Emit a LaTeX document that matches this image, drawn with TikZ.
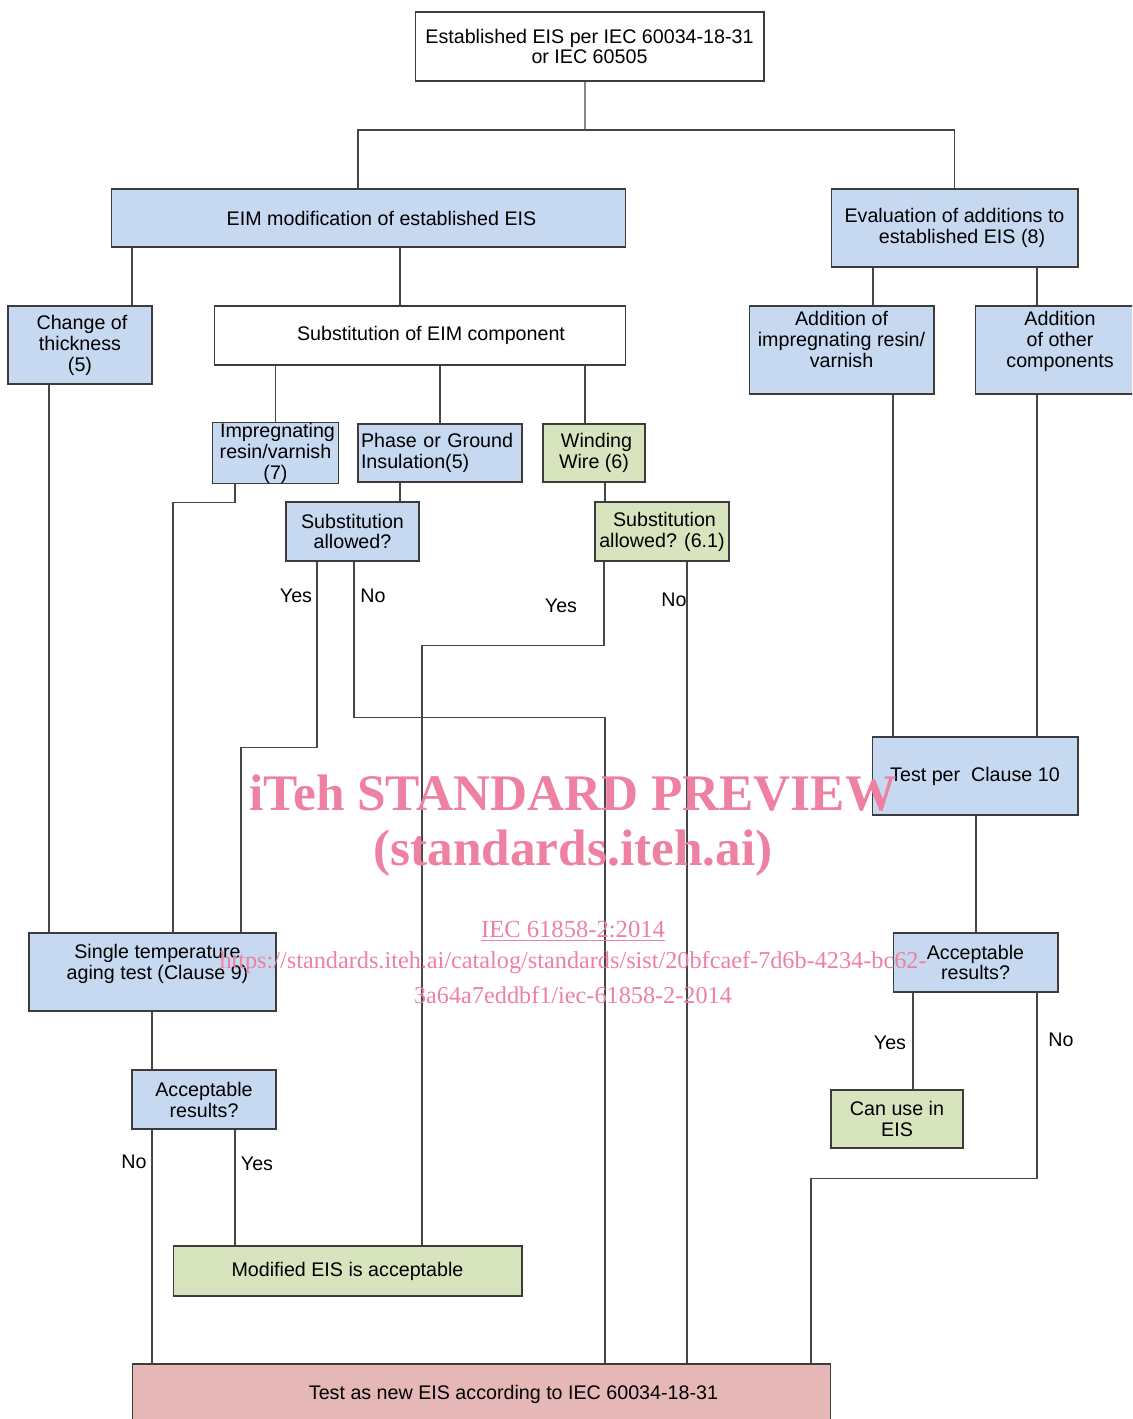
\documentclass[tikz,border=0pt]{standalone}
\usepackage{fontspec}
\setmainfont{Liberation Sans}
\newfontfamily\wmserif{Liberation Serif}
\usepackage{xcolor}
\usepackage{tikz}
\definecolor{eisblue}{RGB}{198,217,241}
\definecolor{eisgreen}{RGB}{215,228,189}
\definecolor{eispink}{RGB}{229,184,183}
\definecolor{edgegray}{RGB}{60,60,60}
\definecolor{linegray}{RGB}{70,70,70}
\definecolor{wmpink}{RGB}{238,128,162}
\tikzset{
  box/.style={draw=edgegray, line width=0.6pt, inner sep=2pt, align=center, font=\fontsize{11.2}{11.9}\selectfont},
  bluebox/.style={box, fill=eisblue},
  greenbox/.style={box, fill=eisgreen},
  pinkbox/.style={box, fill=eispink},
  whitebox/.style={box, fill=white},
  yn/.style={inner sep=0pt, font=\fontsize{11.2}{11.9}\selectfont},
  link/.style={draw=linegray, line width=0.6pt},
  wm/.style={text=wmpink, inner sep=0pt, align=center},
  every picture/.style={line join=miter}
}

\begin{document}
\begin{tikzpicture}[x=0.02cm, y=-0.02cm]
  \clip (0,0) rectangle (1132,1419);
  % boxes
  \node[whitebox, minimum width=6.98cm, minimum height=1.38cm] (top) at (589.5,46.5) {Established EIS per IEC 60034-18-31\\or IEC 60505};
  \node[bluebox, minimum width=10.3cm, minimum height=1.16cm] (eim) at (368.5,218) {\hspace*{0.52cm}EIM modification of established EIS};
  \node[bluebox, minimum width=4.94cm, minimum height=1.56cm] (eval) at (954.5,228) {Evaluation of additions to\\\hspace*{0.3cm}established EIS (8)};
  \node[bluebox, minimum width=2.88cm, minimum height=1.56cm] (thick) at (80,345) {\hspace*{0.08cm}Change of\\thickness\\(5)};
  \node[whitebox, minimum width=8.24cm, minimum height=1.18cm] (subst) at (420,335.5) {\hspace*{0.44cm}Substitution of EIM component};
  \node[bluebox, minimum width=3.7cm, minimum height=1.76cm] (addresin) at (841.5,350) {Addition of\\impregnating resin/\\varnish\\\mbox{}};
  \node[bluebox, minimum width=3.4cm, minimum height=1.76cm] (addother) at (1060,350) {Addition\\of other\\components\\\mbox{}};
  \node[bluebox, minimum width=2.46cm, minimum height=1.16cm, inner ysep=0pt] (impreg) at (275.5,453) {\hspace*{0.08cm}Impregnating\\resin/varnish\\(7)};
  \node[bluebox, minimum width=3.28cm, minimum height=1.16cm, text width=3.16cm, inner xsep=0.06cm, align=left] (phase) at (440,453) {Phase or Ground\\Insulation(5)};
  \node[greenbox, minimum width=2.04cm, minimum height=1.16cm] (winding) at (594,453) {\hspace*{0.1cm}Winding\\Wire (6)};
  \node[bluebox, minimum width=2.66cm, minimum height=1.18cm] (substA) at (352.5,531.5) {Substitution\\allowed?};
  \node[greenbox, minimum width=2.68cm, minimum height=1.18cm] (substB) at (662,531.5) {\hspace*{0.1cm}Substitution\\allowed? (6.1)};
  \node[bluebox, minimum width=4.12cm, minimum height=1.56cm] (test10) at (975,776) {Test per~~Clause 10};
  \node[bluebox, minimum width=3.3cm, minimum height=1.18cm] (accR) at (975.5,962.5) {Acceptable\\results?};
  \node[greenbox, minimum width=2.64cm, minimum height=1.16cm] (canuse) at (897,1119) {Can use in\\EIS};
  \node[bluebox, minimum width=4.94cm, minimum height=1.56cm] (single) at (152.5,972) {\hspace*{0.2cm}Single temperature\\\hspace*{0.2cm}aging test (Clause 9)\\\mbox{}};
  \node[bluebox, minimum width=2.88cm, minimum height=1.18cm] (accL) at (204,1099.5) {Acceptable\\results?};
  \node[greenbox, minimum width=6.98cm, minimum height=1.0cm] (modified) at (347.5,1271) {Modified EIS is acceptable};
  \node[pinkbox, minimum width=13.98cm, minimum height=1.2cm] (final) at (481.5,1394) {\hspace*{1.28cm}Test as new EIS according to IEC 60034-18-31};

  % connectors
  \coordinate (split) at (585,130);
  \draw[link] ([xshift=-0.09cm]top.south) -- (split);
  \draw[link] (eim.north -| 358,0) |- (split) -| (eval.north);
  \draw[link] (eim.south -| 132,0) -- (thick.north -| 132,0);
  \draw[link] (eim.south -| 400,0) -- (subst.north -| 400,0);
  \draw[link] (eval.south -| 873,0) -- (addresin.north -| 873,0);
  \draw[link] (eval.south -| 1037,0) -- (addother.north -| 1037,0);
  \draw[link] (subst.south -| impreg.north) -- (impreg.north);
  \draw[link] (subst.south -| phase.north) -- (phase.north);
  \draw[link] (subst.south -| 585,0) -- (winding.north -| 585,0);
  \draw[link] (phase.south -| 400,0) -- (substA.north -| 400,0);
  \draw[link] (winding.south -| 605,0) -- (substB.north -| 605,0);
  \draw[link] (impreg.south -| 235,0) -- ++(0,19) -| (single.north -| 173,0);
  \draw[link] (thick.south -| 49,0) -- (single.north -| 49,0);
  \draw[link] (substA.south -| 317,0) -- ++(0,186) -| (single.north -| 241,0);
  \draw[link] (substA.south -| 354,0) -- ++(0,156) -| (final.north -| 605,0);
  \draw[link] (substB.south -| 604,0) -- ++(0,84) -| (modified.north -| 422,0);
  \draw[link] (substB.south -| 687,0) -- (final.north -| 687,0);
  \draw[link] (addresin.south -| 893,0) -- (test10.north -| 893,0);
  \draw[link] (addother.south -| 1037,0) -- (test10.north -| 1037,0);
  \draw[link] (test10.south -| 976,0) -- (accR.north -| 976,0);
  \draw[link] (accR.south -| 913,0) -- (canuse.north -| 913,0);
  \draw[link] (accR.south -| 1037,0) -- ++(0,186) -| (final.north -| 811,0);
  \draw[link] (single.south -| 152,0) -- (accL.north -| 152,0);
  \draw[link] (accL.south -| 152,0) -- (final.north -| 152,0);
  \draw[link] (accL.south -| 235,0) -- (modified.north -| 235,0);

  % yes / no
  \node[yn] (yA) at (296,596) {Yes};
  \node[yn] (nA) at (373,596) {No};
  \node[yn] (yB) at (561,606) {Yes};
  \node[yn] (nB) at (674,600) {No};
  \node[yn] (yR) at (890,1043) {Yes};
  \node[yn] (nR) at (1061,1040) {No};
  \node[yn] (nL) at (134,1162) {No};
  \node[yn] (yL) at (257,1164) {Yes};

  % watermark
  \node[wm, font=\wmserif\bfseries\fontsize{29.2}{30}\selectfont] (wm1) at (573,793) {iTeh STANDARD PREVIEW};
  \node[wm, font=\wmserif\bfseries\fontsize{29.2}{30}\selectfont] (wm2) at (573,853) {(standards.iteh.ai)};
  \node[wm, font=\wmserif\fontsize{14}{16}\selectfont] (wm3) at (573,931) {\underline{IEC 61858-2:2014}};
  \node[wm, font=\wmserif\fontsize{13.8}{16}\selectfont] (wm4) at (573,963) {https://standards.iteh.ai/catalog/standards/sist/20bfcaef-7d6b-4234-bc62-};
  \node[wm, font=\wmserif\fontsize{13.8}{16}\selectfont] (wm5) at (573,995) {3a64a7eddbf1/iec-61858-2-2014};
\end{tikzpicture}
\end{document}
